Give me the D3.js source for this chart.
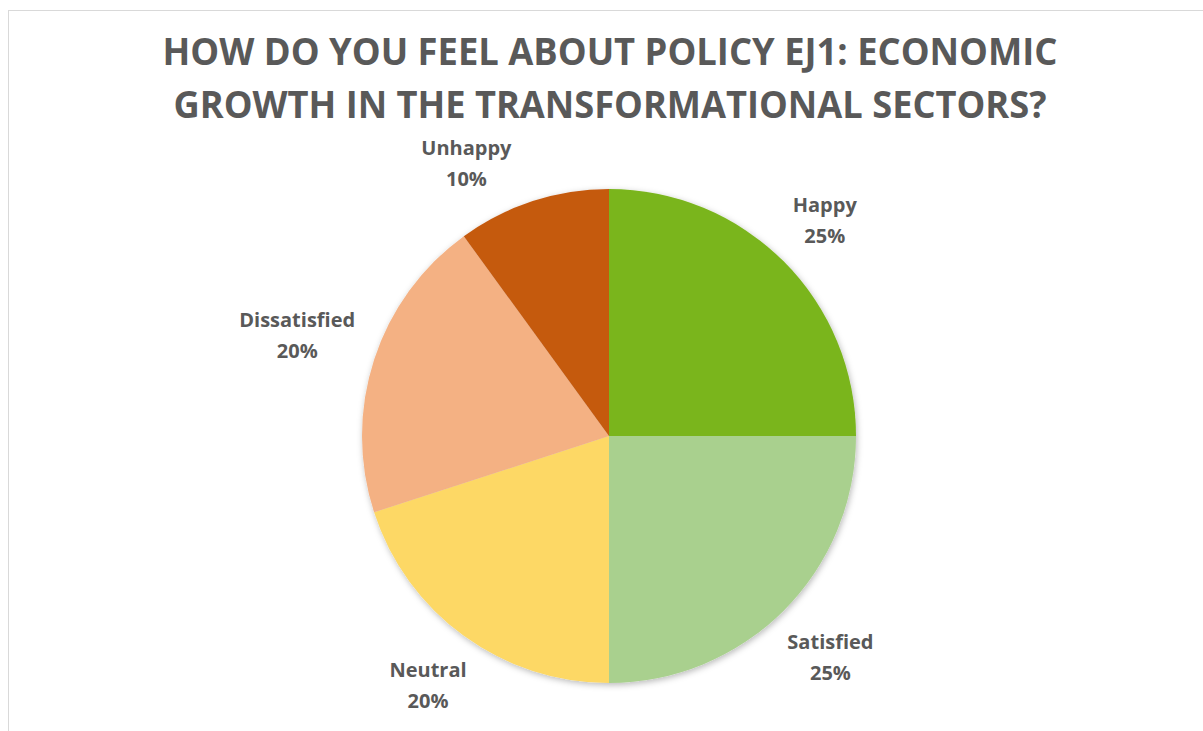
<!DOCTYPE html>
<html>
<head>
<meta charset="utf-8">
<script src="https://cdn.jsdelivr.net/npm/d3@7"></script>
<style>
  html, body { margin: 0; padding: 0; background: #fff; }
  svg { display: block; }
</style>
</head>
<body>
<svg id="chart" width="1203" height="731"></svg>
<script>
// Survey responses for policy EJ1
const categories = ["Happy", "Satisfied", "Neutral", "Dissatisfied", "Unhappy"];
const shares = [25, 25, 20, 20, 10];
const sliceColors = ["#7AB51D", "#A9D08E", "#FDD865", "#F4B183", "#C55A11"];
const titleLines = [
  "HOW DO YOU FEEL ABOUT POLICY EJ1: ECONOMIC",
  "GROWTH IN THE TRANSFORMATIONAL SECTORS?"
];

const W = 1203, H = 731;
const cx = 609, cy = 436, radius = 247;
const labelGap = 18;
const textColor = "#595959";
const fontFamily = "'Open Sans', 'Noto Sans', sans-serif";

const svg = d3.select("#chart");

// chart frame
svg.append("rect")
  .attr("x", 8.5).attr("y", 10.5)
  .attr("width", W + 20).attr("height", H + 20)
  .attr("fill", "#fff")
  .attr("stroke", "#d9d9d9")
  .attr("stroke-width", 1);

// soft shadow under the pie
const defs = svg.append("defs");
const f = defs.append("filter").attr("id", "pieShadow")
  .attr("x", "-10%").attr("y", "-10%").attr("width", "120%").attr("height", "120%");
f.append("feDropShadow")
  .attr("dx", 1).attr("dy", 2).attr("stdDeviation", 3)
  .attr("flood-color", "#000").attr("flood-opacity", 0.28);

// title, two centred lines
const title = svg.append("g");
const titleBaselines = [65, 118];
const titleWidths = [895, 873];
titleLines.forEach((line, i) => {
  title.append("text")
    .attr("x", 610).attr("y", titleBaselines[i])
    .attr("text-anchor", "middle")
    .attr("font-family", fontFamily)
    .attr("font-weight", 700)
    .attr("font-size", 37)
    .attr("fill", textColor)
    .attr("textLength", titleWidths[i])
    .attr("lengthAdjust", "spacingAndGlyphs")
    .text(line);
});
const titleBottom = titleBaselines[1] + 19; // keep labels clear of the title

// pie
const data = categories.map((c, i) => ({ category: c, value: shares[i], color: sliceColors[i] }));
const pie = d3.pie().value(d => d.value).sort(null);
const arcs = pie(data);
const arc = d3.arc().innerRadius(0).outerRadius(radius);

const pieG = svg.append("g")
  .attr("transform", `translate(${cx},${cy})`);

pieG.append("g")
  .attr("filter", "url(#pieShadow)")
  .selectAll("path")
  .data(arcs)
  .join("path")
  .attr("d", arc)
  .attr("fill", d => d.data.color);

// outside-end data labels
const fmt = d3.format(".0%");
const total = d3.sum(shares);
const labels = pieG.append("g")
  .selectAll("text")
  .data(arcs)
  .join("text")
  .attr("text-anchor", "middle")
  .attr("font-family", fontFamily)
  .attr("font-weight", 700)
  .attr("font-size", 20)
  .attr("fill", textColor);

labels.append("tspan")
  .attr("x", 0).attr("y", -6)
  .text(d => d.data.category);
labels.append("tspan")
  .attr("x", 0).attr("y", 25)
  .text(d => fmt(d.data.value / total));

labels.attr("transform", function (d) {
  const b = this.getBBox();
  const hw = b.width / 2, hh = 25;
  const bcx = b.x + hw, bcy = b.y + b.height / 2;
  let a = (d.startAngle + d.endAngle) / 2;
  const place = ang => {
    const s = Math.sin(ang), c = Math.cos(ang);
    const dist = radius + labelGap + Math.abs(s) * hw + Math.abs(c) * hh;
    return [s * dist, -c * dist];
  };
  let [x, y] = place(a);
  // slide along the rim, away from the top, while the box would touch the title
  const dir = Math.sin(a) < 0 ? -1 : 1;
  let guard = 0;
  while (cy + y - hh < titleBottom && guard++ < 200) {
    a += dir * Math.PI / 360;
    [x, y] = place(a);
  }
  return `translate(${x - bcx},${y - bcy})`;
});
</script>
</body>
</html>
